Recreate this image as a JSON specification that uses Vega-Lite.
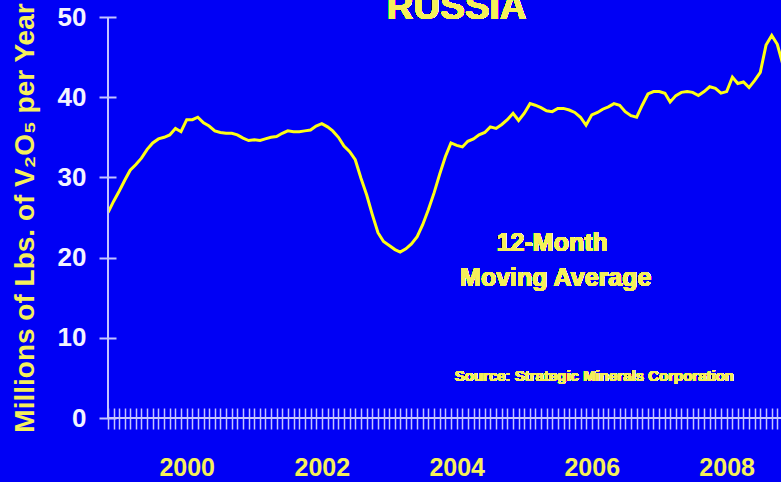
{
  "$schema": "https://vega.github.io/schema/vega-lite/v6.json",
  "width": 673,
  "height": 401,
  "autosize": {"type": "none"},
  "padding": {"left": 108, "top": 17, "right": 0, "bottom": 64},
  "background": "#0000f5",
  "config": {"view": {"stroke": null}, "font": "Liberation Sans"},
  "data": {"values": [
    {"date": "1998-11-01", "value": 25.6}, {"date": "1998-12-01", "value": 27.0},
    {"date": "1999-01-01", "value": 28.3}, {"date": "1999-02-01", "value": 29.7},
    {"date": "1999-03-01", "value": 30.9}, {"date": "1999-04-01", "value": 31.6},
    {"date": "1999-05-01", "value": 32.4}, {"date": "1999-06-01", "value": 33.5},
    {"date": "1999-07-01", "value": 34.3}, {"date": "1999-08-01", "value": 34.8},
    {"date": "1999-09-01", "value": 35.0}, {"date": "1999-10-01", "value": 35.3},
    {"date": "1999-11-01", "value": 36.1}, {"date": "1999-12-01", "value": 35.7},
    {"date": "2000-01-01", "value": 37.2}, {"date": "2000-02-01", "value": 37.2},
    {"date": "2000-03-01", "value": 37.5}, {"date": "2000-04-01", "value": 36.8},
    {"date": "2000-05-01", "value": 36.4}, {"date": "2000-06-01", "value": 35.8},
    {"date": "2000-07-01", "value": 35.6}, {"date": "2000-08-01", "value": 35.5},
    {"date": "2000-09-01", "value": 35.5}, {"date": "2000-10-01", "value": 35.3},
    {"date": "2000-11-01", "value": 34.9}, {"date": "2000-12-01", "value": 34.6},
    {"date": "2001-01-01", "value": 34.7}, {"date": "2001-02-01", "value": 34.6},
    {"date": "2001-03-01", "value": 34.8}, {"date": "2001-04-01", "value": 35.0},
    {"date": "2001-05-01", "value": 35.1}, {"date": "2001-06-01", "value": 35.5},
    {"date": "2001-07-01", "value": 35.8}, {"date": "2001-08-01", "value": 35.7},
    {"date": "2001-09-01", "value": 35.7}, {"date": "2001-10-01", "value": 35.8},
    {"date": "2001-11-01", "value": 35.9}, {"date": "2001-12-01", "value": 36.4},
    {"date": "2002-01-01", "value": 36.7}, {"date": "2002-02-01", "value": 36.3},
    {"date": "2002-03-01", "value": 35.8}, {"date": "2002-04-01", "value": 35.0},
    {"date": "2002-05-01", "value": 33.9}, {"date": "2002-06-01", "value": 33.2},
    {"date": "2002-07-01", "value": 32.2}, {"date": "2002-08-01", "value": 29.9},
    {"date": "2002-09-01", "value": 27.8}, {"date": "2002-10-01", "value": 25.4},
    {"date": "2002-11-01", "value": 23.1}, {"date": "2002-12-01", "value": 22.0},
    {"date": "2003-01-01", "value": 21.5}, {"date": "2003-02-01", "value": 21.0},
    {"date": "2003-03-01", "value": 20.7}, {"date": "2003-04-01", "value": 21.1},
    {"date": "2003-05-01", "value": 21.7}, {"date": "2003-06-01", "value": 22.6},
    {"date": "2003-07-01", "value": 24.1}, {"date": "2003-08-01", "value": 26.0},
    {"date": "2003-09-01", "value": 28.1}, {"date": "2003-10-01", "value": 30.4},
    {"date": "2003-11-01", "value": 32.6}, {"date": "2003-12-01", "value": 34.3},
    {"date": "2004-01-01", "value": 34.0}, {"date": "2004-02-01", "value": 33.8},
    {"date": "2004-03-01", "value": 34.5}, {"date": "2004-04-01", "value": 34.8},
    {"date": "2004-05-01", "value": 35.3}, {"date": "2004-06-01", "value": 35.6},
    {"date": "2004-07-01", "value": 36.3}, {"date": "2004-08-01", "value": 36.1},
    {"date": "2004-09-01", "value": 36.6}, {"date": "2004-10-01", "value": 37.2},
    {"date": "2004-11-01", "value": 38.0}, {"date": "2004-12-01", "value": 37.1},
    {"date": "2005-01-01", "value": 38.0}, {"date": "2005-02-01", "value": 39.2},
    {"date": "2005-03-01", "value": 39.0}, {"date": "2005-04-01", "value": 38.7},
    {"date": "2005-05-01", "value": 38.3}, {"date": "2005-06-01", "value": 38.2},
    {"date": "2005-07-01", "value": 38.6}, {"date": "2005-08-01", "value": 38.6},
    {"date": "2005-09-01", "value": 38.4}, {"date": "2005-10-01", "value": 38.1},
    {"date": "2005-11-01", "value": 37.5}, {"date": "2005-12-01", "value": 36.5},
    {"date": "2006-01-01", "value": 37.8}, {"date": "2006-02-01", "value": 38.1},
    {"date": "2006-03-01", "value": 38.5}, {"date": "2006-04-01", "value": 38.8},
    {"date": "2006-05-01", "value": 39.2}, {"date": "2006-06-01", "value": 39.0},
    {"date": "2006-07-01", "value": 38.2}, {"date": "2006-08-01", "value": 37.7},
    {"date": "2006-09-01", "value": 37.5}, {"date": "2006-10-01", "value": 39.0},
    {"date": "2006-11-01", "value": 40.4}, {"date": "2006-12-01", "value": 40.7},
    {"date": "2007-01-01", "value": 40.7}, {"date": "2007-02-01", "value": 40.5},
    {"date": "2007-03-01", "value": 39.4}, {"date": "2007-04-01", "value": 40.2},
    {"date": "2007-05-01", "value": 40.6}, {"date": "2007-06-01", "value": 40.7},
    {"date": "2007-07-01", "value": 40.6}, {"date": "2007-08-01", "value": 40.2},
    {"date": "2007-09-01", "value": 40.7}, {"date": "2007-10-01", "value": 41.3},
    {"date": "2007-11-01", "value": 41.1}, {"date": "2007-12-01", "value": 40.5},
    {"date": "2008-01-01", "value": 40.7}, {"date": "2008-02-01", "value": 42.5},
    {"date": "2008-03-01", "value": 41.7}, {"date": "2008-04-01", "value": 41.9},
    {"date": "2008-05-01", "value": 41.2}, {"date": "2008-06-01", "value": 42.1},
    {"date": "2008-07-01", "value": 43.1}, {"date": "2008-08-01", "value": 46.5},
    {"date": "2008-09-01", "value": 47.7}, {"date": "2008-10-01", "value": 46.6},
    {"date": "2008-11-01", "value": 44.0}
  ]},
  "layer": [
    {
      "mark": {"type": "line", "color": "#ffff14", "strokeWidth": 3, "clip": true},
      "encoding": {
        "x": {
          "field": "date", "type": "temporal",
          "scale": {"domain": [{"year": 1998, "month": 11, "date": 1}, {"year": 2008, "month": 10, "date": 21}]},
          "axis": {
            "title": null, "domain": false, "grid": false, "offset": -10, "tickSize": 21,
            "tickCount": {"interval": "month", "step": 1},
            "labelExpr": "(month(datum.value) == 0 && year(datum.value) % 2 == 0) ? timeFormat(datum.value, '%Y') : ''",
            "labelOverlap": false, "labelBound": false, "labelFlush": false,
            "labelColor": "#f5f05a", "labelFont": "Liberation Sans", "labelFontSize": 25, "labelFontWeight": "bold",
            "labelPadding": 26, "tickColor": "#c4c4ff", "tickWidth": 1.5
          }
        },
        "y": {
          "field": "value", "type": "quantitative",
          "scale": {"domain": [0, 50]},
          "axis": {
            "title": "Millions of Lbs. of V₂O₅ per Year", "titleColor": "#f5f05a", "titleFont": "Liberation Sans",
            "titleFontSize": 28, "titleFontWeight": "bold", "titlePadding": 18,
            "values": [0, 10, 20, 30, 40, 50], "domain": false, "grid": false, "offset": -8, "tickSize": 17,
            "tickColor": "#c4c4ff", "tickWidth": 2, "labelColor": "#f4f4ff", "labelFont": "Liberation Sans",
            "labelFontSize": 26, "labelFontWeight": "bold", "labelPadding": 13
          }
        }
      }
    },
    {
      "mark": {"type": "rule", "color": "#c4c4ff", "strokeWidth": 2},
      "encoding": {"y": {"datum": 0, "type": "quantitative"}}
    },
    {
      "mark": {"type": "rule", "color": "#c4c4ff", "strokeWidth": 2},
      "encoding": {"x": {"datum": {"year": 1998, "month": 11, "date": 1}, "type": "temporal"}}
    },
    {
      "mark": {"type": "text", "text": "RUSSIA", "font": "Liberation Sans", "fontWeight": "bold", "fontSize": 37, "color": "#f5f05a", "align": "center", "baseline": "alphabetic"},
      "encoding": {"x": {"datum": {"year": 2004, "month": 1, "date": 1}, "type": "temporal"}, "y": {"datum": 49.75, "type": "quantitative"}}
    },
    {
      "mark": {"type": "text", "text": "12-Month", "font": "Liberation Sans", "fontWeight": "bold", "fontSize": 25, "color": "#f5f05a", "align": "center", "baseline": "alphabetic"},
      "encoding": {"x": {"datum": {"year": 2005, "month": 6, "date": 1}, "type": "temporal"}, "y": {"datum": 20.8, "type": "quantitative"}}
    },
    {
      "mark": {"type": "text", "text": "Moving Average", "font": "Liberation Sans", "fontWeight": "bold", "fontSize": 25, "color": "#f5f05a", "align": "center", "baseline": "alphabetic"},
      "encoding": {"x": {"datum": {"year": 2005, "month": 6, "date": 20}, "type": "temporal"}, "y": {"datum": 16.5, "type": "quantitative"}}
    },
    {
      "mark": {"type": "text", "text": "Source: Strategic Minerals Corporation", "font": "Liberation Sans", "fontWeight": "bold", "fontSize": 15, "color": "#f5f05a", "align": "center", "baseline": "alphabetic"},
      "encoding": {"x": {"datum": {"year": 2006, "month": 1, "date": 15}, "type": "temporal"}, "y": {"datum": 4.6, "type": "quantitative"}}
    }
  ]
}
